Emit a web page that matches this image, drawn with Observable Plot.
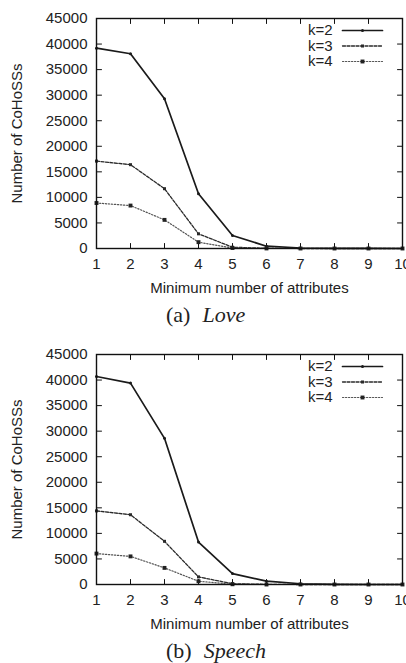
<!DOCTYPE html>
<html><head><meta charset="utf-8">
<script src="https://cdn.jsdelivr.net/npm/d3@7"></script>
<script src="https://cdn.jsdelivr.net/npm/@observablehq/plot@0.6"></script>
<style>
html,body{margin:0;padding:0;background:#fff;overflow:hidden;width:406px;height:663px}
.cap{height:38px;box-sizing:border-box;padding-top:6px;padding-left:166px;font-family:"Liberation Serif","Times New Roman",serif;font-size:22px;line-height:22px;color:#222;white-space:nowrap}
.cap i{margin-left:12px}
</style></head><body><div id="root"></div>
<script>
// ---- data ----
const attributes = [1, 2, 3, 4, 5, 6, 7, 8, 9, 10];
const seriesNames = ["k=2", "k=3", "k=4"];
const yTickValues = [0, 5000, 10000, 15000, 20000, 25000, 30000, 35000, 40000, 45000];

const loveK2 = [39200, 38100, 29300, 10700, 2550, 450, 100, 30, 10, 0];
const loveK3 = [17100, 16400, 11700, 2870, 250, 50, 0, 0, 0, 0];
const loveK4 = [8900, 8400, 5600, 1240, 100, 10, 0, 0, 0, 0];

const speechK2 = [40700, 39400, 28600, 8300, 2140, 650, 150, 30, 0, 0];
const speechK3 = [14400, 13650, 8450, 1490, 150, 30, 0, 0, 0, 0];
const speechK4 = [6050, 5500, 3250, 640, 50, 0, 0, 0, 0, 0];

const xLabel = "Minimum number of attributes";
const yLabel = "Number of CoHoSSs";
const panels = [
  {tag: "(a)", name: "Love", series: [loveK2, loveK3, loveK4]},
  {tag: "(b)", name: "Speech", series: [speechK2, speechK3, speechK4]}
];

// ---- styles ----
const styles = {
  "k=2": {stroke: "#1a1a1a", strokeWidth: 1.7, dash: null, symbol: "circle", r: 1.5, fill: "#1a1a1a"},
  "k=3": {stroke: "#2a2a2a", strokeWidth: 1.3, dash: "3,1.5", symbol: "square", r: 1.7, fill: "#2a2a2a"},
  "k=4": {stroke: "#555", strokeWidth: 1.2, dash: "1.3,1.7", symbol: "square", r: 2.2, fill: "#222"}
};
const legendDy = {"k=2": 12, "k=3": 27.5, "k=4": 43};
const lineShape = {draw(context, l) { context.moveTo(0, 0); context.lineTo(0, -l); }};
const tickLen = 5;

function chart(panel) {
  const rows = [];
  seriesNames.forEach((k, i) => {
    panel.series[i].forEach((v, j) => rows.push({k, x: attributes[j], y: v}));
  });
  const xMin = attributes[0], xMax = attributes[attributes.length - 1];
  const yMin = yTickValues[0], yMax = yTickValues[yTickValues.length - 1];
  const marks = [];
  // inward ticks on all four sides
  const tickOpts = {length: tickLen, anchor: "start", shape: lineShape, stroke: "#111", strokeWidth: 1};
  marks.push(Plot.vector(attributes, {x: d => d, y: () => yMin, rotate: 0, ...tickOpts}));
  marks.push(Plot.vector(attributes, {x: d => d, y: () => yMax, rotate: 180, ...tickOpts}));
  marks.push(Plot.vector(yTickValues, {x: () => xMin, y: d => d, rotate: 90, ...tickOpts}));
  marks.push(Plot.vector(yTickValues, {x: () => xMax, y: d => d, rotate: 270, ...tickOpts}));
  // series
  for (const k of seriesNames) {
    const s = styles[k];
    const data = rows.filter(d => d.k === k);
    marks.push(Plot.line(data, {x: "x", y: "y", stroke: s.stroke, strokeWidth: s.strokeWidth, strokeDasharray: s.dash}));
    marks.push(Plot.dot(data, {x: "x", y: "y", symbol: s.symbol, r: s.r, fill: s.fill, stroke: "none"}));
  }
  // legend
  for (const k of seriesNames) {
    const s = styles[k];
    const dy = legendDy[k];
    marks.push(Plot.text([k], {frameAnchor: "top-right", text: d => d, textAnchor: "end", lineAnchor: "middle", dx: -70, dy, fill: "#222"}));
    marks.push(Plot.vector([k], {frameAnchor: "top-right", dx: -60, dy, rotate: 90, length: 40, anchor: "start", shape: lineShape, stroke: s.stroke, strokeWidth: s.strokeWidth, strokeDasharray: s.dash}));
    marks.push(Plot.dot([k], {frameAnchor: "top-right", dx: -40, dy, symbol: s.symbol, r: s.r, fill: s.fill, stroke: "none"}));
  }
  marks.push(Plot.frame({stroke: "#111", strokeWidth: 1.4}));
  marks.push(Plot.axisX({ticks: attributes, tickSize: 0, tickPadding: 10, label: null, tickFormat: "d", fill: "#222"}));
  marks.push(Plot.axisY({ticks: yTickValues, tickSize: 0, tickPadding: 9, label: null, tickFormat: "d", fill: "#222"}));
  marks.push(Plot.text([xLabel], {frameAnchor: "bottom", text: d => d, textAnchor: "middle", lineAnchor: "middle", dy: 40, fill: "#222"}));
  marks.push(Plot.text([yLabel], {frameAnchor: "left", text: d => d, textAnchor: "middle", lineAnchor: "middle", rotate: -90, dx: -79, fill: "#222"}));

  return Plot.plot({
    width: 406,
    height: 298,
    marginTop: 18,
    marginBottom: 50,
    marginLeft: 96,
    marginRight: 4,
    style: {fontFamily: "'Liberation Sans', Arial, sans-serif", fontSize: "15px", color: "#222", background: "#fff", overflow: "visible"},
    x: {domain: [xMin, xMax]},
    y: {domain: [yMin, yMax]},
    marks
  });
}

const root = document.getElementById("root");
for (const p of panels) {
  root.appendChild(chart(p));
  const cap = document.createElement("div");
  cap.className = "cap";
  const tag = document.createElement("span");
  tag.textContent = p.tag;
  const nm = document.createElement("i");
  nm.textContent = p.name;
  cap.appendChild(tag);
  cap.appendChild(nm);
  root.appendChild(cap);
}
</script>
</body></html>
